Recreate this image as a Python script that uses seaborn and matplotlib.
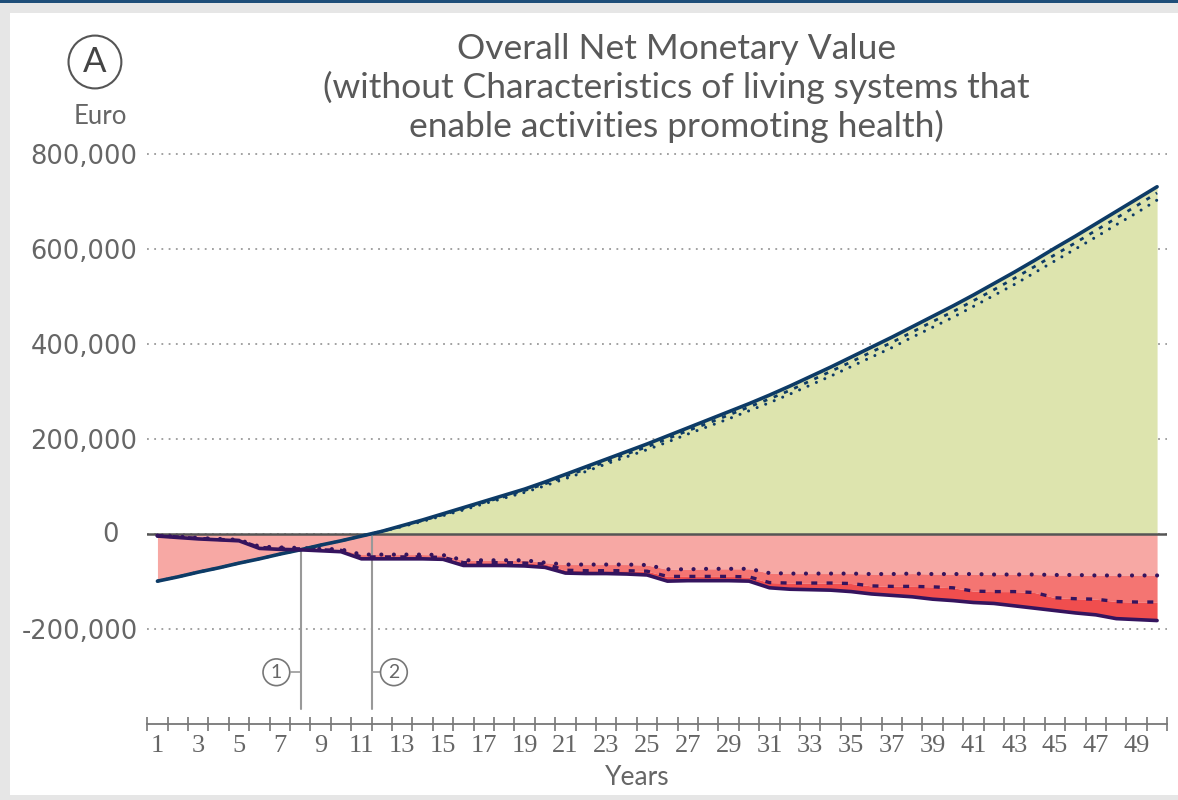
#!/usr/bin/env python
# Overall Net Monetary Value over 50 years (panel A)
# net value lines with green/red area fills, cost scenarios below zero

import numpy as np
import pandas as pd
import matplotlib.pyplot as plt
import seaborn as sns
from matplotlib.patches import Rectangle
from matplotlib.transforms import ScaledTranslation

# ============================================
# DATA (Euro)
# ============================================

years = list(range(1, 51))

# overall net monetary value, thousand Euro
net_solid = [-99, -90, -80, -71, -61, -52, -42, -33, -23, -14,
             -4, 6, 18, 30, 43, 56, 69, 82, 95, 110,
             126, 142, 158, 174, 190, 207, 224, 241, 258, 275,
             293, 312, 332, 352, 373, 394, 415, 437, 459, 481,
             504, 528, 552, 577, 603, 628, 654, 680, 706, 732]
net_dashed = [-99, -90, -80, -71, -61, -52, -42, -33, -23, -14,
              -4, 6, 17, 29, 41, 54, 67, 79, 92, 106,
              122, 137, 153, 169, 184, 201, 218, 234, 251, 268,
              285, 303, 323, 343, 363, 384, 404, 426, 448, 469,
              492, 515, 539, 564, 589, 614, 640, 666, 692, 719]
net_dotted = [-99, -90, -80, -71, -61, -52, -42, -33, -23, -14,
              -4, 6, 16, 27, 39, 51, 64, 76, 88, 102,
              117, 132, 148, 163, 178, 194, 211, 227, 243, 260,
              277, 295, 314, 333, 353, 373, 393, 415, 436, 457,
              480, 503, 526, 551, 576, 601, 626, 652, 677, 704]

# costs (negative part), thousand Euro
cost_solid = [-4, -7, -10, -12, -14, -30, -32, -33, -35, -37,
              -52, -52, -52, -52, -53, -66, -66, -66, -67, -70,
              -82, -83, -83, -84, -86, -99, -98, -98, -98, -99,
              -113, -116, -117, -118, -121, -126, -129, -132, -137, -140,
              -144, -146, -151, -156, -161, -166, -170, -178, -180, -182]
cost_dashed = [-3, -6, -9, -11, -13, -28, -30, -31, -33, -34,
               -48, -48, -48, -48, -49, -60, -60, -60, -61, -63,
               -76, -77, -77, -77, -78, -89, -89, -89, -89, -90,
               -102, -103, -103, -103, -104, -109, -110, -110, -111, -113,
               -120, -121, -121, -123, -134, -136, -137, -142, -143, -143]
cost_dotted = [-3, -5, -8, -10, -12, -26, -28, -29, -31, -32,
               -43, -43, -43, -43, -44, -55, -55, -55, -55, -60,
               -64, -64, -64, -64, -65, -74, -74, -73, -73, -73,
               -82, -83, -83, -83, -83, -84, -84, -83, -84, -84,
               -84, -85, -85, -85, -86, -86, -87, -87, -87, -87]

y_ticks = [-200000, 0, 200000, 400000, 600000, 800000]
x_labels = list(range(1, 50, 2))

# break-even markers: (year, top of line, label)
markers = [(8.05, -32000, '1'), (11.53, 0, '2')]

# ============================================
# PLOT
# ============================================

df = pd.DataFrame({
    'year': years,
    'net': np.array(net_solid) * 1000,
    'net_dashed': np.array(net_dashed) * 1000,
    'net_dotted': np.array(net_dotted) * 1000,
    'cost': np.array(cost_solid) * 1000,
    'cost_dashed': np.array(cost_dashed) * 1000,
    'cost_dotted': np.array(cost_dotted) * 1000,
})

sns.set_theme(style='white')
plt.rcParams['font.family'] = ['Lato', 'DejaVu Sans']

fig = plt.figure(figsize=(11.78, 8), dpi=100, facecolor='#e6e6e6')
fig.patches.append(Rectangle((10 / 1178, 5 / 800), 1168 / 1178, 782 / 800,
                             transform=fig.transFigure, facecolor='white',
                             edgecolor='none', zorder=-10))
fig.patches.append(Rectangle((0, 797 / 800), 1, 3 / 800, transform=fig.transFigure,
                             facecolor='#1f4e79', edgecolor='none', zorder=-9))

ax = fig.add_axes([0.125, 0.095, 0.8659, 0.72375])
ax.set_facecolor('none')

x = df['year']
green = '#dde4ae'
pink = '#f7a8a4'
mid_red = '#f47572'
dark_red = '#f04e4e'

ax.fill_between(x, 0, df['net'], where=df['net'] >= 0, interpolate=True,
                color=green, lw=0, zorder=1)
ax.fill_between(x, 0, df['net'], where=df['net'] <= 0, interpolate=True,
                color=pink, lw=0, zorder=1)
ax.fill_between(x, 0, df['cost_dotted'], color=pink, lw=0, zorder=1)
ax.fill_between(x, df['cost_dotted'], df['cost_dashed'], color=mid_red, lw=0, zorder=1)
ax.fill_between(x, df['cost_dashed'], df['cost'], color=dark_red, lw=0, zorder=1)

ax.axhline(0, color='#555555', lw=1.8, zorder=2)

navy = '#0d3b66'
purple = '#35145e'
sns.lineplot(data=df, x='year', y='net_dotted', ax=ax, color=navy, lw=2.2,
             linestyle=(0, (0.01, 3)), dash_capstyle='round', zorder=3)
sns.lineplot(data=df, x='year', y='net_dashed', ax=ax, color=navy, lw=2,
             linestyle=(0, (1.5, 2.5)), zorder=3)
sns.lineplot(data=df, x='year', y='net', ax=ax, color=navy, lw=2.6, zorder=4)
sns.lineplot(data=df, x='year', y='cost_dotted', ax=ax, color=purple, lw=3,
             linestyle=(0, (0.01, 3)), dash_capstyle='round', zorder=3)
sns.lineplot(data=df, x='year', y='cost_dashed', ax=ax, color=purple, lw=2.4,
             linestyle=(0, (1.8, 2.8)), zorder=3)
sns.lineplot(data=df, x='year', y='cost', ax=ax, color=purple, lw=2.6, zorder=4)

# break-even markers
for mx, top, lab in markers:
    ax.plot([mx, mx], [top, -369000], color='#999999', lw=1.5, zorder=2)
    if lab == '1':
        cx, x0, x1 = mx - 1.22, mx - 0.5, mx
    else:
        cx, x0, x1 = mx + 1.06, mx, mx + 0.4
    ax.plot([x0, x1], [-291000, -291000], color='#999999', lw=1.2, zorder=2)
    ax.text(cx, -291000, lab, ha='center', va='center', fontsize=14,
            color='#666666',
            bbox=dict(boxstyle='circle,pad=0.25', fc='white', ec='#777777', lw=1.2))

ax.set_xlim(0.5, 50.5)
ax.set_ylim(-400000, 820000)

ax.set_xticks(x_labels)
ax.set_xticklabels([str(v) for v in x_labels], family='Liberation Serif',
                   fontsize=19, color='#666666')
ax.set_xticks(np.arange(0.5, 51, 1), minor=True)
ax.tick_params(axis='x', which='major', length=0, pad=8)
ax.tick_params(axis='x', which='minor', length=10, width=1.2, color='#777777',
               direction='inout', bottom=True)

ax.set_yticks(y_ticks)
ax.set_yticklabels([f'{v:,}' for v in y_ticks], family='DejaVu Sans',
                   fontsize=18.5, color='#666666')
ax.tick_params(axis='y', length=0, pad=7)
for lbl in ax.get_yticklabels():
    if lbl.get_text() == '0':
        lbl.set_transform(lbl.get_transform() +
                          ScaledTranslation(-0.19, 0.02, fig.dpi_scale_trans))

ax.grid(axis='y', linestyle=(0, (1, 3)), color='#9a9a9a', lw=1.3)
ax.grid(axis='x', visible=False)
for side in ['top', 'left', 'right']:
    ax.spines[side].set_visible(False)
ax.spines['bottom'].set_color('#777777')
ax.spines['bottom'].set_linewidth(1.3)

ax.set_xlabel('')
ax.set_ylabel('')

fig.text(0.5407, 0.028, 'Years', ha='center', va='center', fontsize=19,
         color='#666666')
fig.text(0.085, 0.855, 'Euro', ha='center', va='center', fontsize=18.5,
         color='#666666')
fig.text(0.0806, 0.9225, 'A', ha='center', va='center', fontsize=25,
         color='#444444',
         bbox=dict(boxstyle='circle,pad=0.3', fc='white', ec='#555555', lw=1.5))
fig.text(0.574, 0.89,
         'Overall Net Monetary Value\n'
         '(without Characteristics of living systems that\n'
         'enable activities promoting health)',
         ha='center', va='center', fontsize=25.5, color='#595959', linespacing=1.2)

fig.savefig('out.png', dpi=100, facecolor=fig.get_facecolor())
print('Saved: out.png')
